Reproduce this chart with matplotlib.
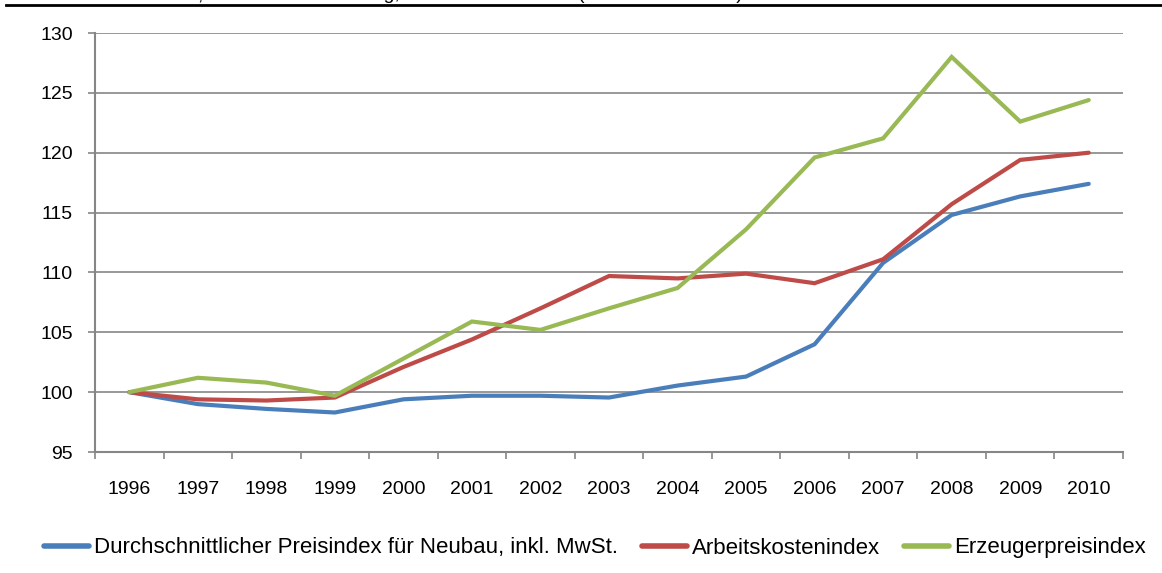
import matplotlib
matplotlib.use("Agg")
import matplotlib.pyplot as plt
from matplotlib.lines import Line2D
import numpy as np

years = ["1996", "1997", "1998", "1999", "2000", "2001", "2002", "2003",
         "2004", "2005", "2006", "2007", "2008", "2009", "2010"]
neubau = [100.0, 99.0, 98.6, 98.3, 99.4, 99.7, 99.7, 99.55, 100.55, 101.3,
          104.0, 110.8, 114.8, 116.35, 117.4]
arbeitskosten = [100.0, 99.4, 99.3, 99.55, 102.1, 104.4, 107.0, 109.7, 109.5,
                 109.9, 109.1, 111.1, 115.7, 119.4, 120.0]
erzeuger = [100.0, 101.2, 100.8, 99.7, 102.8, 105.9, 105.2, 107.0, 108.7,
            113.6, 119.6, 121.2, 128.0, 122.6, 124.4]
labels = ["Durchschnittlicher Preisindex für Neubau, inkl. MwSt.",
          "Arbeitskostenindex", "Erzeugerpreisindex"]
yticks = [95, 100, 105, 110, 115, 120, 125, 130]

plt.rcParams['font.family'] = ['Liberation Sans', 'DejaVu Sans']

W, H = 1162, 573
fig = plt.figure(figsize=(W / 100, H / 100), dpi=100)
ax = fig.add_axes([95 / W, 1 - 452 / H, (1123 - 95) / W, (452 - 33) / H])

x = np.arange(len(years))
colors = ["#4A7EBB", "#BE4B48", "#98B954"]
for series, c, lab in zip([neubau, arbeitskosten, erzeuger], colors, labels):
    ax.plot(x, series, color=c, lw=3.0, label=lab, solid_capstyle='round',
            solid_joinstyle='miter', zorder=3)

grid_c = "#868686"
ax.set_ylim(95, 130)
ax.set_yticks(yticks)
ax.set_xlim(-0.5, len(years) - 0.5)
ax.set_xticks(x)
ax.set_xticklabels(years)
ax.set_xticks(np.arange(-0.5, len(years)), minor=True)
ax.tick_params(axis='x', which='major', length=0, pad=21, labelsize=14)
ax.tick_params(axis='x', which='minor', length=5, width=1.2, color=grid_c)
ax.tick_params(axis='y', length=5, width=1.2, color=grid_c, pad=11, labelsize=14)
ax.yaxis.grid(True, color=grid_c, lw=1.2)
ax.set_axisbelow(True)
for s in ['top', 'right']:
    ax.spines[s].set_visible(False)
for s in ['left', 'bottom']:
    ax.spines[s].set_color(grid_c)
    ax.spines[s].set_linewidth(1.5)

leg = fig.legend(loc='center', bbox_to_anchor=(595 / W, 1 - 548 / H), ncol=3,
                 frameon=False, fontsize=16, handlelength=2.0, handletextpad=0.23,
                 columnspacing=1.1)
for h in leg.get_lines():
    h.set_linewidth(4)

# top rule and cut-off title
fig.add_artist(Line2D([6 / W, 1.0], [1 - 4.5 / H, 1 - 4.5 / H], color='black',
                      lw=2.0, transform=fig.transFigure))
ty = 1 + 1.0 / H
fig.text(203 / W, ty, "Baukosten in Österreich,", ha='right', va='baseline', fontsize=14)
fig.text(400 / W, ty, "Entwicklung,", ha='right', va='baseline', fontsize=14)
fig.text(420 / W, ty, "1996 – 2010", ha='left', va='baseline', fontsize=14)
fig.text(578 / W, ty, "(Basis 1996 = 100)", ha='left', va='baseline', fontsize=14)

fig.savefig("out.png", dpi=100, facecolor='white')
